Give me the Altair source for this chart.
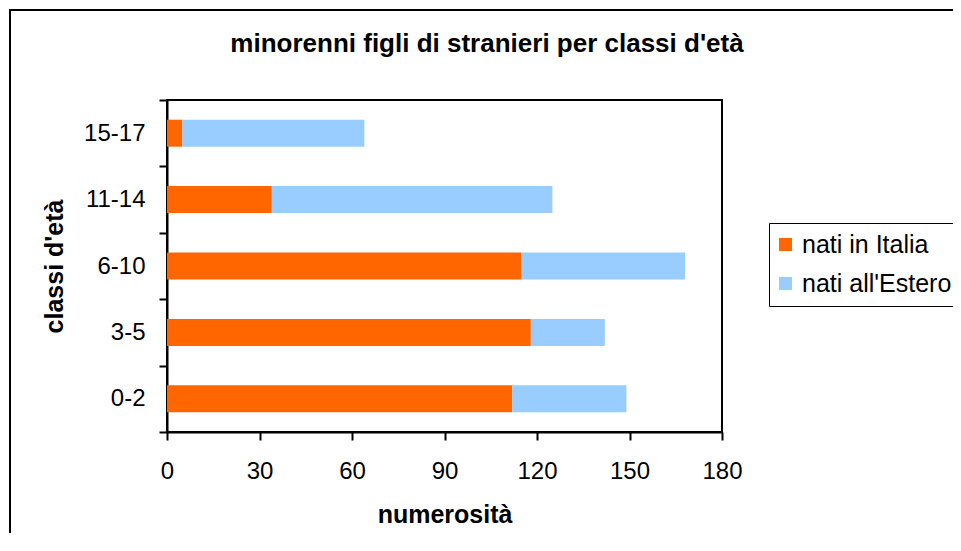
import altair as alt
import pandas as pd

ages = ["0-2", "3-5", "6-10", "11-14", "15-17"]
nati_italia = [112, 118, 115, 34, 5]
nati_estero = [37, 24, 53, 91, 59]
series = ["nati in Italia", "nati all'Estero"]
colors = ["#FF6600", "#99CCFF"]
x_ticks = [0, 30, 60, 90, 120, 150, 180]
age_order = ["15-17", "11-14", "6-10", "3-5", "0-2"]
title_text = "minorenni figli di stranieri per classi d'età"

rows = []
for a, it, es in zip(ages, nati_italia, nati_estero):
    rows.append({"classe": a, "serie": series[0], "n": it, "ord": 0})
    rows.append({"classe": a, "serie": series[1], "n": es, "ord": 1})
df = pd.DataFrame(rows)

FONT = "Liberation Sans"

frame = alt.Chart(alt.Data(values=[{}])).mark_rect(
    fill="transparent", stroke="black", strokeWidth=2
).encode(
    x=alt.value(-157), x2=alt.value(2000), y=alt.value(-90), y2=alt.value(2000)
)

title = alt.Chart(alt.Data(values=[{"t": title_text}])).mark_text(
    font=FONT, fontSize=26, fontWeight="bold", color="black",
    align="center", baseline="alphabetic"
).encode(
    text="t:N", x=alt.value(320), y=alt.value(-48)
)

bars = alt.Chart(df).mark_bar(size=27).encode(
    x=alt.X(
        "n:Q",
        stack="zero",
        scale=alt.Scale(domain=[0, 180], nice=False),
        axis=alt.Axis(
            values=x_ticks,
            title="numerosità",
            grid=False,
            tickSize=8,
            tickWidth=2,
            tickColor="black",
            domainColor="black",
            domainWidth=2,
            labelFont=FONT,
            labelFontSize=24,
            labelColor="black",
            labelBaseline="alphabetic",
            labelPadding=38,
            labelFlush=False,
            labelOverlap=False,
            titleFont=FONT,
            titleFontSize=25,
            titleFontWeight="bold",
            titleColor="black",
            titleBaseline="alphabetic",
            titleX=277.5,
            titleY=90,
        ),
    ),
    y=alt.Y(
        "classe:N",
        sort=age_order,
        scale=alt.Scale(paddingInner=0, paddingOuter=0),
        axis=alt.Axis(
            title="classi d'età",
            tickBand="extent",
            tickSize=8,
            tickWidth=2,
            tickColor="black",
            domainColor="black",
            domainWidth=2,
            labelFont=FONT,
            labelFontSize=24,
            labelColor="black",
            labelPadding=14,
            titleFont=FONT,
            titleFontSize=25,
            titleFontWeight="bold",
            titleColor="black",
            titleAngle=270,
            titleAlign="center",
            titleBaseline="alphabetic",
            titleX=-105,
            titleY=166,
        ),
    ),
    color=alt.Color(
        "serie:N",
        scale=alt.Scale(domain=series, range=colors),
        legend=alt.Legend(
            title=None,
            orient="none",
            legendX=602,
            legendY=123,
            strokeColor="black",
            padding=9,
            labelFont=FONT,
            labelFontSize=25,
            labelColor="black",
            labelOffset=4,
            symbolOffset=-5,
            symbolType="square",
            symbolSize=169,
            symbolStrokeWidth=0,
            rowPadding=13,
        ),
    ),
    order=alt.Order("ord:Q"),
)

chart = alt.layer(frame, bars, title).properties(
    width=555,
    height=332,
    autosize=alt.AutoSizeParams(type="none"),
    padding={"left": 159, "top": 92, "right": 231, "bottom": 101},
).configure(
    background="white",
    view=alt.ViewConfig(stroke="black", strokeWidth=2),
)

chart.save("out.html", embed_options={"renderer": "svg", "actions": False})
